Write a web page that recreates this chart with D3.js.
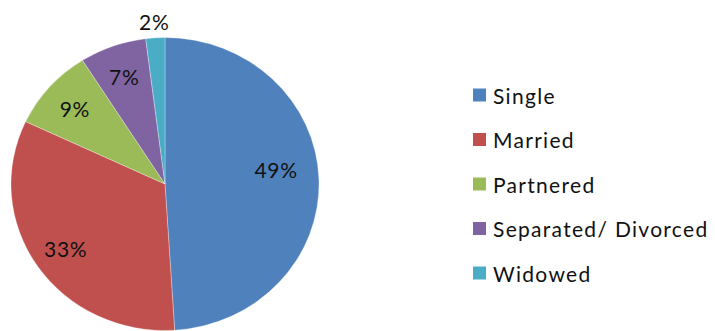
<!DOCTYPE html>
<html><head><meta charset="utf-8">
<script src="https://cdn.jsdelivr.net/npm/d3@7"></script>
<style>html,body{margin:0;padding:0;background:#fff;}svg{display:block;}</style>
</head><body>
<script>
const categories = ["Single", "Married", "Partnered", "Separated/ Divorced", "Widowed"];
const values = [49, 33, 9, 7, 2];
const colors = ["#4F81BD", "#C0504D", "#9BBB59", "#8064A2", "#4BACC6"];

const W = 715, H = 331;
const cx = 165, cy = 184, rx = 154, ry = 146.5;
const font = "Lato, 'Open Sans', sans-serif";

const svg = d3.select("body").append("svg").attr("width", W).attr("height", H);
svg.append("rect").attr("width", W).attr("height", H).attr("fill", "#fff");

const data = categories.map((c, i) => ({ cat: c, value: values[i], color: colors[i] }));
const pie = d3.pie().value(d => d.value).sort(null);
const arcs = pie(data);
const arc = d3.arc().innerRadius(0).outerRadius(ry);

const g = svg.append("g").attr("transform", `translate(${cx},${cy}) scale(${rx / ry},1)`);
g.selectAll("path").data(arcs).join("path")
  .attr("d", arc).attr("fill", d => d.data.color)
  .attr("stroke", "#fff").attr("stroke-width", 0.3);

// labels along mid angle (elliptical)
const nudge = { "Single": [-9, -11] };
const lbl = svg.append("g");
arcs.forEach(a => {
  const mid = (a.startAngle + a.endAngle) / 2;
  const outside = a.data.value < 5;
  const f = outside ? 1.11 : 0.78;
  let x = cx + Math.sin(mid) * rx * f;
  let y = cy - Math.cos(mid) * ry * f;
  const n = nudge[a.data.cat] || [0, 0];
  lbl.append("text")
    .attr("x", x + n[0]).attr("y", y + n[1])
    .attr("text-anchor", "middle").attr("dominant-baseline", "central")
    .attr("font-family", font).attr("font-size", 21).attr("letter-spacing", 0.7)
    .attr("fill", "#111")
    .text(d3.format(".0f")(a.data.value) + "%");
});

// legend
const legendY = d3.scalePoint().domain(categories).range([95, 273]);
const lg = svg.append("g");
const items = lg.selectAll("g").data(data).join("g")
  .attr("transform", d => `translate(473,${legendY(d.cat)})`);
items.append("rect").attr("x", 0).attr("y", -6.5).attr("width", 13).attr("height", 13)
  .attr("fill", d => d.color);
items.append("text").attr("x", 20).attr("y", 0)
  .attr("dominant-baseline", "central")
  .attr("font-family", font).attr("font-size", 21).attr("letter-spacing", 1.3)
  .attr("fill", "#111")
  .text(d => d.cat);
</script>
</body></html>
